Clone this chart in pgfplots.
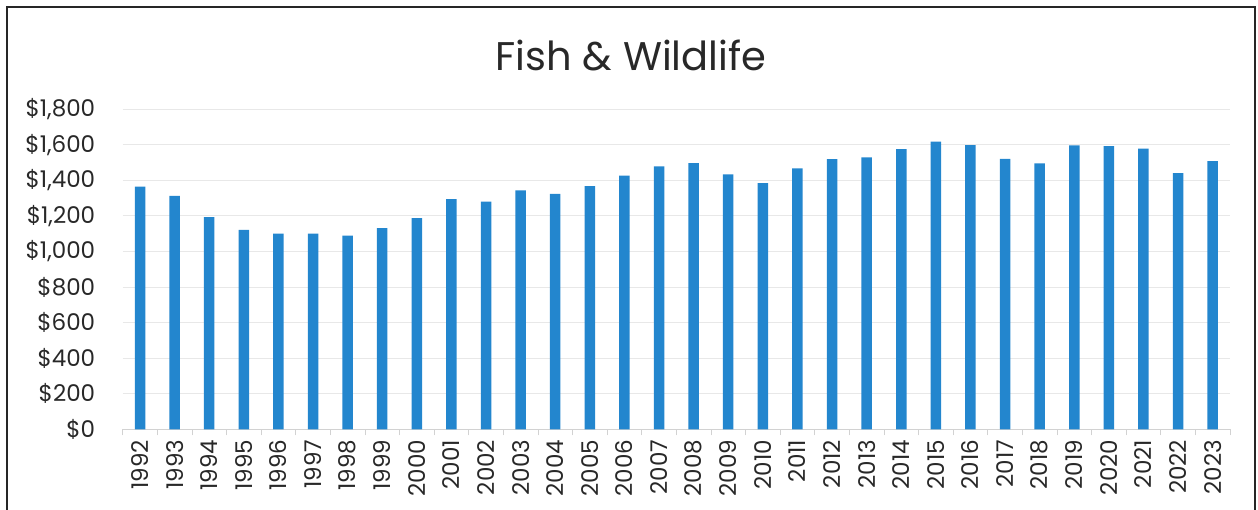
\documentclass[border=0pt]{standalone}
\usepackage{pgfplots}
\pgfplotsset{compat=1.18}
\usepackage{fontspec}
\setmainfont{Poppins}
\definecolor{barblue}{RGB}{35,134,206}
\definecolor{txt}{RGB}{40,40,40}
\begin{document}
\begin{tikzpicture}
\useasboundingbox (0,0) rectangle (1258pt,509pt);
\begin{scope}
\clip (0,0) rectangle (1258pt,509pt);
\draw[line width=2pt, black!85] (7pt,-5pt) -- (7pt,502pt) -- (1255pt,502pt) -- (1255pt,-5pt);
\end{scope}
\node[font=\fontsize{40}{48}\selectfont, text=txt] at (631pt,454pt) {Fish \& Wildlife};
\begin{axis}[
  at={(122.7pt,79.7pt)}, anchor=south west, scale only axis,
  width=1107.3pt, height=320.3pt,
  ybar, bar width=10.5pt,
  ymin=0, ymax=1800, xmin=-0.5, xmax=31.5,
  axis lines*=left,
  y axis line style={draw=none},
  x axis line style={draw=gray!35, line width=0.8pt},
  ymajorgrids, grid style={gray!18, line width=0.8pt},
  ytick={0,200,400,600,800,1000,1200,1400,1600,1800},
  yticklabels={{\$0},{\$200},{\$400},{\$600},{\$800},{\$1,000},{\$1,200},{\$1,400},{\$1,600},{\$1,800}},
  yticklabel style={font=\fontsize{23}{27}\selectfont, text=txt, anchor=east, xshift=-24pt},
  major tick length=0pt,
  xtick={0,...,31},
  xticklabels={1992,1993,1994,1995,1996,1997,1998,1999,2000,2001,2002,2003,2004,2005,2006,2007,2008,2009,2010,2011,2012,2013,2014,2015,2016,2017,2018,2019,2020,2021,2022,2023},
  xticklabel style={font=\fontsize{23}{27}\selectfont, text=txt, rotate=90, anchor=east, xshift=-7pt},
  minor xtick={-0.5,0.5,...,31.5},
  minor tick length=6pt, tick align=outside,
  minor tick style={draw=gray!35, line width=0.8pt},
  clip=false,
]
\addplot[fill=barblue, draw=none] coordinates {
(0,1364) (1,1312) (2,1192) (3,1121) (4,1100) (5,1100) (6,1089) (7,1130)
(8,1187) (9,1294) (10,1280) (11,1342) (12,1323) (13,1367) (14,1425) (15,1477)
(16,1496) (17,1432) (18,1384) (19,1466) (20,1519) (21,1528) (22,1575) (23,1616)
(24,1597) (25,1520) (26,1494) (27,1595) (28,1592) (29,1577) (30,1440) (31,1507)
};
\end{axis}
\end{tikzpicture}
\end{document}
